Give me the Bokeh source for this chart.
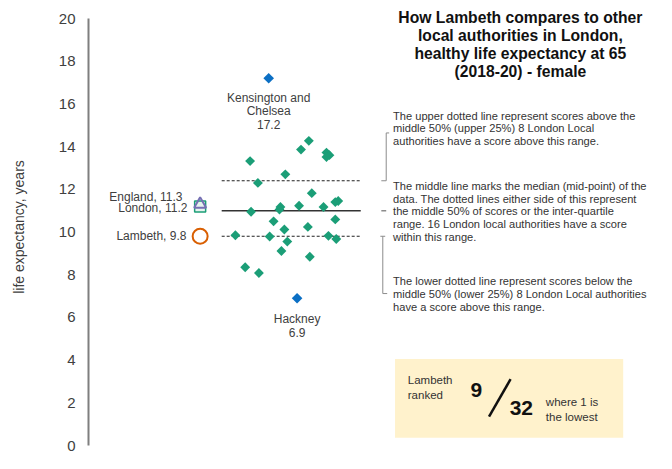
from math import pi
from bokeh.plotting import figure
from bokeh.models import Range1d, Label, BoxAnnotation, FixedTicker
from bokeh.embed import file_html
from bokeh.resources import INLINE

# ---------------- data ----------------
borough_values = [14.27, 13.86, 13.72, 13.60, 13.51, 13.32, 12.70, 12.30, 11.82, 11.45,
                  11.40, 11.23, 11.17, 11.05, 11.17, 10.95, 10.50, 10.59, 10.12, 10.24,
                  9.85, 9.79, 9.82, 9.67, 9.55, 9.11, 8.84, 8.35, 8.08]
borough_jitter = [23, 15, 41, 44, 41, -37, -1, -29, 26, 53,
                  50, 13, -6, -7, 38, -36, -13, 50, -2, 22,
                  -52, -17, 43, 51, 1, -5, 24, -42, -28]
extreme_names = [["Kensington and", "Chelsea"], ["Hackney"]]
extreme_values = [17.2, 6.9]
extreme_jitter = [-18, 11]
england_value = 11.3
london_value = 11.2
lambeth_value = 9.8
lower_quartile = 9.8
median_value = 11.0
upper_quartile = 12.4
lambeth_rank = 9
n_authorities = 32
y_ticks = [0, 2, 4, 6, 8, 10, 12, 14, 16, 18, 20]

# ---------------- layout helpers ----------------
W, H = 656, 453
FRAME_LEFT = 88
Y0_FIG, Y20_FIG = 445, 18           # figure px of values 0 and 20
PPU = (Y0_FIG - Y20_FIG) / 20.0


def dy(ref_y):
    # reference picture y (px) -> value units
    return (463 - ref_y) / 22.2


def dx(ref_x):
    # reference picture x (px) -> offset from strip centre
    return ref_x - 290


FONT = "Liberation Sans"
TXT = "#404040"

p = figure(width=W, height=H, output_backend="svg", toolbar_location=None,
           x_range=Range1d(dx(88), dx(668)),
           y_range=Range1d(-(H - Y0_FIG) / PPU, 20 + Y20_FIG / PPU),
           x_axis_location=None, min_border_left=FRAME_LEFT, min_border_right=0,
           min_border_top=0, min_border_bottom=0)
p.outline_line_color = None
p.xgrid.visible = False
p.ygrid.visible = False

ax = p.yaxis[0]
ax.bounds = (0, 20)
ax.ticker = FixedTicker(ticks=y_ticks)
ax.axis_line_color = "#7f7f7f"
ax.axis_line_width = 2
ax.major_tick_line_color = None
ax.minor_tick_line_color = None
ax.major_label_standoff = 7
ax.major_label_text_font = FONT
ax.major_label_text_font_size = "15px"
ax.major_label_text_color = TXT
ax.axis_label = "life expectancy, years"
ax.axis_label_text_font = FONT
ax.axis_label_text_font_size = "14px"
ax.axis_label_text_font_style = "normal"
ax.axis_label_text_color = TXT
ax.axis_label_standoff = 29

# quartile / median lines
seg_x0, seg_x1 = dx(224), dx(366)
p.segment(x0=[seg_x0, seg_x0], x1=[seg_x1, seg_x1], y0=[upper_quartile, lower_quartile],
          y1=[upper_quartile, lower_quartile], line_color="#222222", line_width=1.2,
          line_dash="3 2")
p.segment(x0=[seg_x0], x1=[seg_x1], y0=[median_value], y1=[median_value],
          line_color="#333333", line_width=1.5)

# boroughs
p.scatter(x=borough_jitter, y=borough_values, marker="square", angle=pi / 4, size=7,
          fill_color="#1b9e77", line_color=None)
p.scatter(x=extreme_jitter, y=extreme_values, marker="square", angle=pi / 4, size=7.5,
          fill_color="#0b6fc4", line_color=None)

# comparators
cx = dx(202)
p.scatter(x=[cx], y=[london_value], marker="square", size=11, fill_color="#e6f3ee",
          line_color="#1b9e77", line_width=1.5)
p.scatter(x=[cx], y=[england_value], marker="triangle", size=12, fill_alpha=0,
          line_color="#7570b3", line_width=2)
p.scatter(x=[cx], y=[lambeth_value], marker="circle", size=15, fill_alpha=0,
          line_color="#d95f02", line_width=2)


def lab(x, y, text, size="12px", align="center", color=TXT, style="normal", yoff=0):
    p.add_layout(Label(x=x, y=y, text=text, text_font=FONT, text_font_size=size,
                       text_align=align, text_baseline="middle", text_color=color,
                       text_font_style=style, y_offset=yoff))


# extreme labels
for names, v, j, first_off in zip(extreme_names, extreme_values, extreme_jitter, [-19.5, -20.5]):
    lines = names + [f"{v}"]
    for i, t in enumerate(lines):
        lab(j, v, t, yoff=first_off - 13.6 * i)

lab(dx(184), england_value, f"England, {england_value}", align="right", yoff=7)
lab(dx(189), london_value, f"London, {london_value}", align="right", yoff=-2)
lab(dx(188), lambeth_value, f"Lambeth, {lambeth_value}", align="right", yoff=0)

# title
title_lines = ["How Lambeth compares to other", "local authorities in London,",
               "healthy life expectancy at 65", "(2018-20) - female"]
for i, t in enumerate(title_lines):
    lab(dx(529), dy(18 + 18.7 * i), t, size="15.7px", color="#111111", style="bold")

# explanatory text
paras = [
    (120, ["The upper dotted line represent scores above the",
           "middle 50% (upper 25%) 8 London Local",
           "authorities have a score above this range."]),
    (193, ["The middle line marks the median (mid-point) of the",
           "data. The dotted lines either side of this represent",
           "the middle 50% of scores or the inter-quartile",
           "range. 16 London local authorities have a score",
           "within this range."]),
    (292, ["The lower dotted line represent scores below the",
           "middle 50% (lower 25%) 8 London Local authorities",
           "have a score above this range."]),
]
for y0, lines in paras:
    for i, t in enumerate(lines):
        lab(dx(399), dy(y0 + 13.3 * i), t, size="11.1px", align="left", color="#333333")

# brackets
BR = "#8c8c8c"
p.segment(x0=[dx(392), dx(392), dx(387)], x1=[dx(395), dx(392), dx(392)],
          y0=[dy(138), dy(138), upper_quartile], y1=[dy(138), upper_quartile, upper_quartile],
          line_color=BR, line_width=1)
p.segment(x0=[dx(387)], x1=[dx(392)], y0=[median_value], y1=[median_value],
          line_color=BR, line_width=1.5)
p.segment(x0=[dx(386), dx(388.5), dx(388.5)], x1=[dx(391), dx(388.5), dx(393)],
          y0=[lower_quartile, lower_quartile, dy(305)], y1=[lower_quartile, dy(305), dy(305)],
          line_color=BR, line_width=1)

# rank box
p.add_layout(BoxAnnotation(left=dx(401), right=dx(634), top=dy(373), bottom=dy(455),
                           fill_color="#fff2cc", fill_alpha=1, line_color=None,
                           level="underlay"))
lab(dx(414), dy(395), "Lambeth", size="11.5px", align="left", color="#333333")
lab(dx(414), dy(410), "ranked", size="11.5px", align="left", color="#333333")
lab(dx(484), dy(405), f"{lambeth_rank}", size="21px", style="bold", color="#111111")
lab(dx(530), dy(424), f"{n_authorities}", size="21px", style="bold", color="#111111")
p.segment(x0=[dx(497)], x1=[dx(519)], y0=[dy(433)], y1=[dy(394)], line_color="#111111",
          line_width=2.5)
lab(dx(555), dy(418), "where 1 is", size="11.5px", align="left", color="#333333")
lab(dx(555), dy(433), "the lowest", size="11.5px", align="left", color="#333333")

open("out.html", "w").write(file_html(p, INLINE))
